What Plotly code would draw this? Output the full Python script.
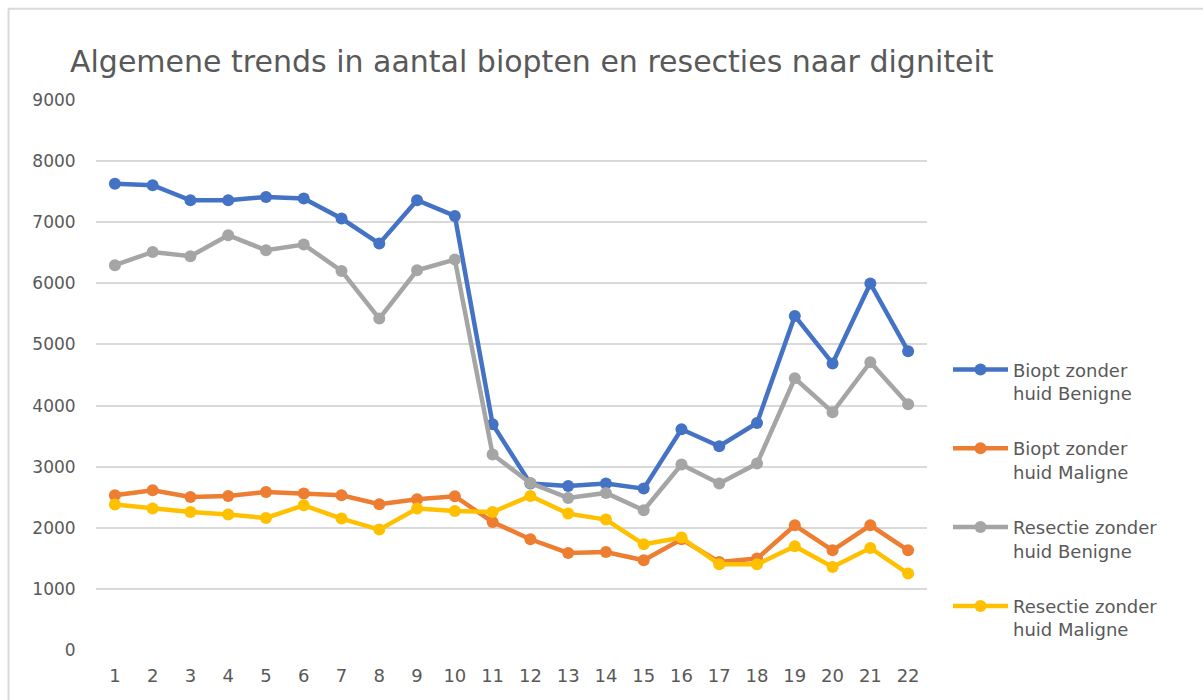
import plotly.graph_objects as go

categories = [str(i) for i in range(1, 23)]

biopt_benigne = [7630, 7605, 7360, 7360, 7414, 7388, 7060, 6650, 7360, 7103,
                 3694, 2723, 2684, 2723, 2641, 3612, 3334, 3715, 5467, 4690, 5997, 4890]
biopt_maligne = [2532, 2614, 2504, 2520, 2586, 2560, 2532, 2385, 2466, 2516,
                 2095, 1812, 1588, 1604, 1468, 1812, 1440, 1496, 2041, 1632, 2041, 1632]
resectie_benigne = [6296, 6514, 6443, 6787, 6542, 6635, 6203, 5424, 6214, 6390,
                    3198, 2733, 2488, 2570, 2286, 3034, 2723, 3050, 4447, 3890, 4709, 4021]
resectie_maligne = [2380, 2314, 2259, 2216, 2160, 2368, 2150, 1970, 2314, 2275,
                    2259, 2520, 2232, 2134, 1730, 1840, 1403, 1403, 1697, 1358, 1669, 1250]

series_names = ["Biopt zonder<br>huid Benigne", "Biopt zonder<br>huid Maligne",
                "Resectie zonder<br>huid Benigne", "Resectie zonder<br>huid Maligne"]
series_values = [biopt_benigne, biopt_maligne, resectie_benigne, resectie_maligne]
series_colors = ["#4472C4", "#ED7D31", "#A5A5A5", "#FFC000"]

y_ticks = [0, 1000, 2000, 3000, 4000, 5000, 6000, 7000, 8000, 9000]

W, H = 1203, 700
L, R, T, B = 96, 927, 99.7, 649.7
FONT = "DejaVu Sans"
TXT = "#595959"

fig = go.Figure()
for i, (name, vals, col) in enumerate(zip(series_names, series_values, series_colors)):
    fig.add_trace(go.Scatter(
        x=categories, y=vals, name=name, mode="lines+markers",
        line=dict(color=col, width=4.5),
        marker=dict(color=col, size=12),
        legendgroup=f"g{i}",
    ))

def px_x(px):
    return (px - L) / (R - L)

def px_y(py):
    return (B - py) / (B - T)

fig.update_layout(
    width=W, height=H,
    margin=dict(l=L, r=W - R, t=T, b=H - B, pad=0, autoexpand=False),
    paper_bgcolor="white", plot_bgcolor="white",
    font=dict(family=FONT, color=TXT),
    title=dict(
        text="Algemene trends in aantal biopten en resecties naar digniteit",
        x=70 / W, xanchor="left", y=1 - 61 / H, yanchor="middle",
        font=dict(family=FONT, size=30, color=TXT),
    ),
    xaxis=dict(
        type="category", range=[-0.5, 21.5], autorange=False,
        showgrid=False, showline=False, zeroline=False, automargin=False,
        ticks="outside", ticklen=9, tickcolor="rgba(0,0,0,0)",
        tickfont=dict(family=FONT, size=18, color=TXT),
    ),
    yaxis=dict(
        range=[0, 9000], autorange=False, tickvals=y_ticks,
        showgrid=True, gridcolor="#d9d9d9", automargin=False,
        gridwidth=1.5, zeroline=False, showline=False,
        ticks="outside", ticklen=16, tickcolor="rgba(0,0,0,0)",
        tickfont=dict(family=FONT, size=17, color=TXT),
    ),
    legend=dict(
        x=px_x(948), xanchor="left", y=px_y(351), yanchor="top",
        traceorder="grouped", tracegroupgap=29, valign="top",
        font=dict(family=FONT, size=18, color=TXT),
        itemwidth=55, bgcolor="rgba(0,0,0,0)",
    ),
    shapes=[
        dict(type="line", xref="paper", yref="paper",
             x0=px_x(8), x1=px_x(1210), y0=px_y(8.5), y1=px_y(8.5),
             line=dict(color="#d9d9d9", width=2)),
        dict(type="line", xref="paper", yref="paper",
             x0=px_x(8.5), x1=px_x(8.5), y0=px_y(8.5), y1=px_y(710),
             line=dict(color="#d9d9d9", width=2)),
    ],
)

fig.write_html(
    "out.html",
    config={"displayModeBar": False},
    post_script="document.body.style.margin='0';document.body.style.overflow='hidden';",
)
